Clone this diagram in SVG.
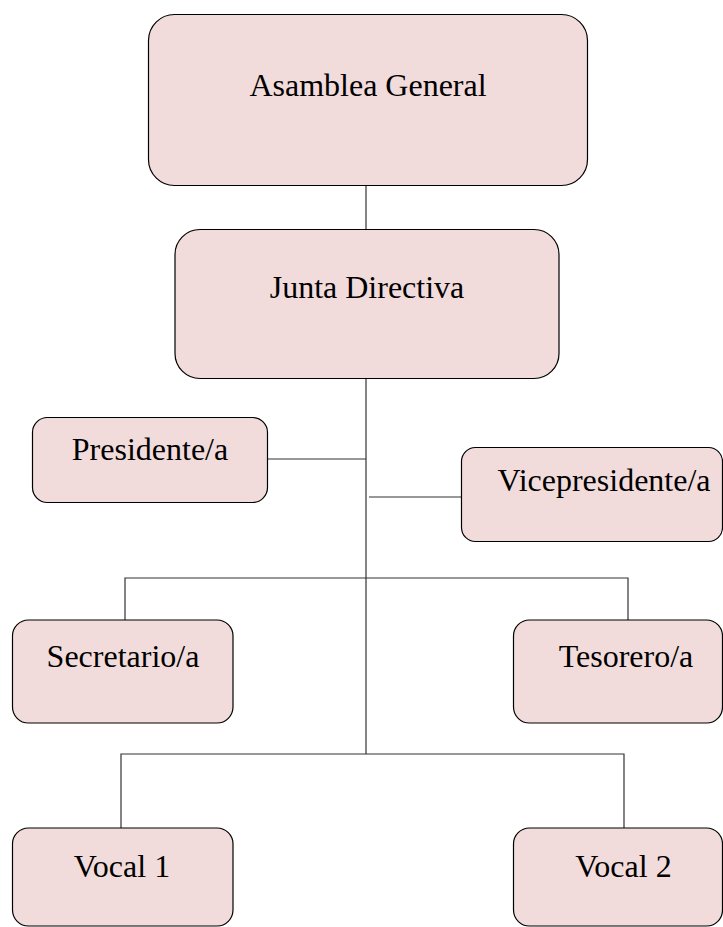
<svg xmlns="http://www.w3.org/2000/svg" width="723" height="927" viewBox="0 0 723 927">
<style>
.box{fill:#f2dcdb;stroke:#000;stroke-width:1.2}
.lbl{font-family:"Liberation Serif","Times New Roman",serif;font-size:32px;fill:#000;text-anchor:middle}
.conn{fill:none;stroke:#333;stroke-width:1.2}
</style>
<rect width="723" height="927" fill="#fff"/>
<g id="connectors">
<line class="conn" x1="366" y1="186" x2="366" y2="229"/>
<line class="conn" x1="366" y1="378" x2="366" y2="754"/>
<line class="conn" x1="268" y1="459" x2="366" y2="459"/>
<line class="conn" x1="369" y1="497" x2="461" y2="497"/>
<polyline class="conn" points="125,620 125,578 628,578 628,620"/>
<polyline class="conn" points="121,828 121,754 624,754 624,828"/>
</g>
<g id="asamblea">
<rect class="box" x="148.5" y="14.5" width="439" height="171" rx="26"/>
<text class="lbl" x="368" y="96">Asamblea General</text>
</g>
<g id="junta">
<rect class="box" x="175" y="229.5" width="384" height="149" rx="25"/>
<text class="lbl" x="367" y="298">Junta Directiva</text>
</g>
<g id="presidente">
<rect class="box" x="32.5" y="417.5" width="235" height="85" rx="15"/>
<text class="lbl" x="150" y="460">Presidente/a</text>
</g>
<g id="vicepresidente">
<rect class="box" x="461.5" y="447.5" width="261" height="94" rx="14"/>
<text class="lbl" x="604" y="491">Vicepresidente/a</text>
</g>
<g id="secretario">
<rect class="box" x="12.5" y="620" width="220.5" height="103" rx="16"/>
<text class="lbl" x="123" y="667">Secretario/a</text>
</g>
<g id="tesorero">
<rect class="box" x="513.5" y="620" width="209" height="103" rx="16"/>
<text class="lbl" x="626" y="667">Tesorero/a</text>
</g>
<g id="vocal1">
<rect class="box" x="12.5" y="828" width="220.5" height="98" rx="16"/>
<text class="lbl" x="122" y="877">Vocal 1</text>
</g>
<g id="vocal2">
<rect class="box" x="513.5" y="828" width="209" height="98" rx="16"/>
<text class="lbl" x="623.5" y="877">Vocal 2</text>
</g>
</svg>
